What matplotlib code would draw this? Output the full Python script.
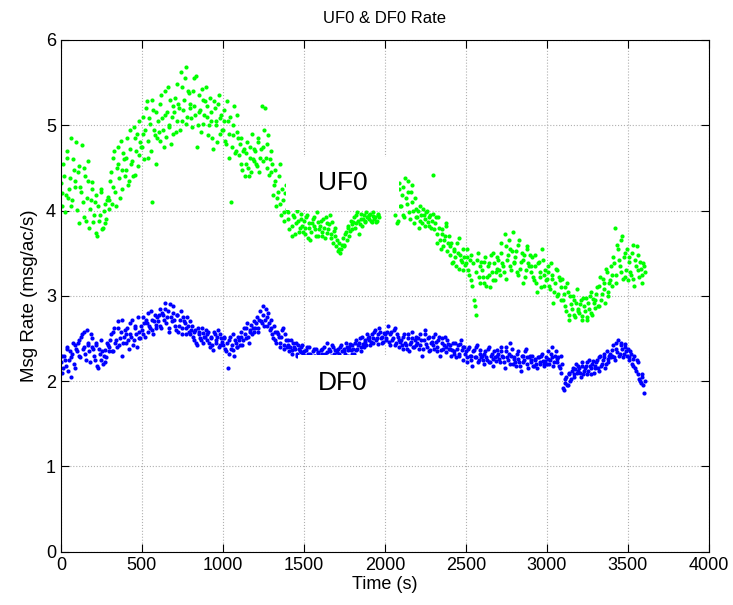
import numpy as np
import matplotlib
matplotlib.use('Agg')
import matplotlib.pyplot as plt
from matplotlib.patches import Rectangle

plt.rcParams['font.family'] = ['Liberation Sans', 'DejaVu Sans']

# samples are 5 s apart; stored as two interleaved runs of 10 s steps
t_a = np.arange(0, 3610, 10)
t_b = t_a + 5

# UF0 rate (msg/ac/s), nan where no sample was drawn
uf0_a = [
    4.32, 4.05, 4.41, 4.18, 4.62, 4.25, 4.85, 4.12, 4.47, 4.35,
    4.01, 4.52, 4.28, 4.77, 3.92, 4.40, 4.15, 4.58, 4.02, 4.33,
    3.86, 4.10, 3.74, 4.05, 3.95, 4.22, 3.80, 4.08, 3.90, 4.16,
    4.12, 4.45, 4.28, 4.70, 4.05, 4.55, 4.38, 4.82, 4.25, 4.60,
    4.48, 4.85, 4.35, 4.72, 4.58, 4.98, 4.42, 4.90, 4.65, 4.80,
    4.75, 5.10, 4.95, 5.28, 4.62, 5.02, 4.10, 5.18, 4.88, 4.55,
    5.05, 4.82, 5.35, 4.95, 5.12, 4.86, 5.45, 5.00, 4.78, 5.22,
    5.15, 4.92, 5.48, 5.20, 5.62, 5.05, 5.30, 5.68, 5.10, 5.38,
    5.25, 4.98, 5.55, 5.12, 4.75, 5.35, 5.18, 5.42, 5.02, 5.28,
    5.10, 4.88, 5.32, 5.05, 4.72, 5.20, 5.00, 5.25, 4.90, 5.12,
    4.95, 5.18, 4.78, 5.05, 4.62, 4.10, 4.88, 5.22, 4.70, 4.92,
    4.65, 4.85, 4.48, 4.72, 4.55, 4.80, 4.40, 4.62, 4.90, 4.58,
    4.70, 4.52, 4.85, 4.62, 5.22, 4.75, 5.20, 4.50, 4.88, 4.60,
    4.45, 4.18, 4.35, 4.05, 4.22, 4.55, 3.95, 4.12, 3.88, 4.30,
    3.98, 3.78, 4.05, 3.70, 3.92, 3.85, 4.02, 3.75, 3.90, 3.82,
    3.88, 3.72, 3.95, 3.80, 3.65, 3.85, 3.92, 3.78, 3.98, 3.70,
    3.82, 3.75, 3.90, 3.68, 3.85, 3.78, 3.95, 3.72, 3.62, 3.80,
    3.58, 3.52, 3.62, 3.55, 3.68, 3.60, 3.75, 3.82, 3.70, 3.88,
    3.78, 3.92, 3.85, 3.98, 3.72, 3.90, 3.82, 3.95, 3.88, 3.93,
    3.90, 3.96, 3.86, 3.98, 3.92, 3.88, 3.95, np.nan, np.nan, np.nan,
    np.nan, np.nan, np.nan, np.nan, np.nan, np.nan, 3.95, 4.20, 3.88, 4.32,
    4.05, 4.28, 3.92, 4.15, 4.35, 3.98, 4.22, 4.10, 3.85, 4.02,
    3.92, 3.80, 4.05, 3.85, 3.95, 3.90, 4.00, 3.82, 3.95, 3.88,
    4.42, 3.85, 3.72, 3.92, 3.65, 3.78, 3.58, 3.70, 3.82, 3.62,
    3.48, 3.62, 3.40, 3.55, 3.35, 3.50, 3.68, 3.42, 3.30, 3.45,
    3.38, 3.55, 3.25, 3.48, 3.12, 2.95, 2.78, 3.42, 3.22, 3.35,
    3.30, 3.15, 3.45, 3.22, 3.38, 3.10, 3.28, 3.50, 3.18, 3.32,
    3.42, 3.25, 3.62, 3.35, 3.72, 3.20, 3.48, 3.55, 3.30, 3.75,
    3.38, 3.52, 3.25, 3.65, 3.40, 3.15, 3.48, 3.30, 3.58, 3.35,
    3.28, 3.45, 3.18, 3.35, 3.05, 3.40, 3.22, 3.55, 3.12, 3.30,
    3.20, 3.35, 3.08, 3.25, 2.92, 3.15, 3.30, 3.02, 3.18, 3.10,
    2.95, 3.10, 2.82, 3.05, 2.72, 2.90, 3.00, 2.78, 2.92, 2.85,
    2.80, 2.95, 2.72, 2.88, 2.98, 2.75, 2.85, 3.05, 2.78, 2.92,
    2.95, 3.10, 2.88, 3.22, 3.02, 3.15, 2.92, 3.28, 3.05, 3.18,
    3.12, 3.45, 3.80, 3.25, 3.55, 3.35, 3.65, 3.20, 3.50, 3.30,
    3.18, 3.40, 3.25, 3.60, 3.12, 3.35, 3.48, 3.22, 3.32, 3.15,
    3.35,
]
uf0_b = [
    4.20, 4.55, 3.98, 4.70, 4.15, 4.38, 4.05, 4.60, 4.28, 4.80,
    4.45, 3.85, 4.22, 4.10, 4.50, 3.88, 4.35, 3.80, 4.12, 4.25,
    3.95, 4.18, 3.70, 3.88, 4.25, 3.78, 4.00, 3.85, 4.12, 4.02,
    4.35, 4.08, 4.62, 4.22, 4.50, 4.75, 4.15, 4.48, 4.68, 4.40,
    4.62, 4.30, 4.95, 4.55, 4.40, 4.85, 4.70, 4.52, 5.05, 4.75,
    4.90, 4.60, 5.20, 4.82, 5.08, 4.70, 5.30, 4.95, 5.15, 4.85,
    4.92, 5.25, 5.08, 4.75, 5.40, 5.15, 4.98, 5.30, 5.10, 4.90,
    5.32, 5.05, 5.25, 4.95, 5.45, 5.18, 5.55, 5.02, 5.40, 5.20,
    5.08, 5.40, 5.22, 5.58, 5.00, 5.15, 4.92, 5.30, 5.12, 5.45,
    5.22, 5.00, 5.15, 4.85, 5.28, 5.05, 4.80, 5.35, 5.08, 4.95,
    5.05, 4.82, 5.28, 4.90, 5.10, 4.75, 5.00, 4.68, 5.12, 4.85,
    4.78, 4.55, 4.70, 4.40, 4.68, 4.50, 4.75, 4.45, 4.60, 4.72,
    4.55, 4.80, 4.45, 4.72, 4.58, 4.95, 4.62, 4.78, 4.42, 4.70,
    4.55, 4.30, 4.48, 4.15, 4.40, 4.08, 4.25, 3.98, 4.20, 4.02,
    3.90, 4.08, 3.82, 3.95, 3.72, 4.00, 3.88, 3.80, 3.96, 3.75,
    3.80, 3.92, 3.68, 3.85, 3.75, 3.90, 3.82, 3.70, 3.86, 3.78,
    3.88, 3.70, 3.80, 3.92, 3.74, 3.84, 3.68, 3.86, 3.76, 3.70,
    3.65, 3.55, 3.50, 3.60, 3.58, 3.72, 3.66, 3.80, 3.76, 3.84,
    3.86, 3.80, 3.95, 3.88, 3.84, 3.96, 3.90, 3.86, 3.98, 3.92,
    3.95, 3.88, 3.94, 3.90, 3.86, 3.96, 3.92, np.nan, np.nan, np.nan,
    np.nan, np.nan, np.nan, np.nan, np.nan, np.nan, 4.10, 3.85, 4.25, 4.05,
    4.18, 3.95, 4.38, 4.08, 4.22, 3.90, 4.30, 4.00, 4.15, 3.92,
    4.00, 3.88, 3.95, 4.02, 3.82, 3.98, 3.86, 3.92, 3.80, 3.96,
    3.78, 3.92, 3.62, 3.80, 3.55, 3.72, 3.66, 3.85, 3.52, 3.70,
    3.58, 3.38, 3.52, 3.45, 3.62, 3.32, 3.48, 3.40, 3.55, 3.36,
    3.45, 3.30, 3.42, 3.18, 3.38, 2.88, 3.28, 3.50, 3.15, 3.40,
    3.22, 3.40, 3.12, 3.35, 3.25, 3.48, 3.18, 3.38, 3.28, 3.45,
    3.30, 3.50, 3.38, 3.28, 3.58, 3.42, 3.65, 3.35, 3.52, 3.40,
    3.45, 3.28, 3.60, 3.32, 3.50, 3.42, 3.22, 3.55, 3.38, 3.48,
    3.35, 3.22, 3.48, 3.15, 3.38, 3.28, 3.10, 3.42, 3.25, 3.18,
    3.28, 3.12, 3.38, 3.20, 3.05, 3.32, 3.00, 3.22, 2.95, 3.20,
    3.02, 2.88, 3.15, 2.78, 3.00, 2.85, 2.95, 2.75, 3.08, 2.82,
    2.90, 2.76, 2.98, 2.82, 2.72, 2.92, 3.00, 2.80, 2.96, 2.86,
    3.02, 2.88, 3.12, 2.95, 3.20, 3.08, 3.32, 3.00, 3.15, 3.35,
    3.25, 3.38, 3.15, 3.60, 3.42, 3.28, 3.70, 3.45, 3.22, 3.55,
    3.45, 3.28, 3.50, 3.20, 3.42, 3.58, 3.30, 3.40, 3.25, 3.38,
    3.28,
]

# DF0 rate (msg/ac/s)
df0_a = [
    2.22, 2.10, 2.30, 2.18, 2.38, 2.25, 2.05, 2.32, 2.20, 2.42,
    2.35, 2.48, 2.28, 2.55, 2.40, 2.32, 2.60, 2.45, 2.22, 2.50,
    2.38, 2.25, 2.45, 2.15, 2.32, 2.48, 2.20, 2.36, 2.28, 2.42,
    2.40, 2.55, 2.35, 2.62, 2.48, 2.70, 2.42, 2.58, 2.30, 2.52,
    2.45, 2.62, 2.38, 2.55, 2.72, 2.48, 2.65, 2.40, 2.58, 2.50,
    2.60, 2.75, 2.52, 2.68, 2.80, 2.62, 2.72, 2.55, 2.78, 2.66,
    2.70, 2.85, 2.62, 2.78, 2.92, 2.68, 2.82, 2.58, 2.75, 2.88,
    2.72, 2.60, 2.78, 2.65, 2.82, 2.55, 2.70, 2.62, 2.75, 2.58,
    2.55, 2.65, 2.48, 2.60, 2.42, 2.58, 2.50, 2.62, 2.45, 2.52,
    2.48, 2.58, 2.40, 2.52, 2.36, 2.55, 2.45, 2.60, 2.42, 2.50,
    2.42, 2.52, 2.35, 2.15, 2.48, 2.38, 2.55, 2.30, 2.45, 2.40,
    2.48, 2.58, 2.42, 2.62, 2.50, 2.68, 2.45, 2.60, 2.55, 2.70,
    2.62, 2.75, 2.58, 2.82, 2.68, 2.88, 2.72, 2.65, 2.80, 2.60,
    2.62, 2.50, 2.58, 2.45, 2.55, 2.40, 2.52, 2.62, 2.38, 2.48,
    2.42, 2.35, 2.48, 2.32, 2.40, 2.45, 2.30, 2.38, 2.34, 2.42,
    2.35, 2.28, 2.40, 2.25, 2.32, 2.22, 2.38, 2.30, 2.26, 2.34,
    2.30, 2.38, 2.24, 2.32, 2.45, 2.28, 2.35, 2.22, 2.40, 2.30,
    2.28, 2.38, 2.32, 2.42, 2.26, 2.35, 2.45, 2.30, 2.40, 2.36,
    2.42, 2.32, 2.48, 2.38, 2.45, 2.35, 2.52, 2.40, 2.46, 2.55,
    2.48, 2.42, 2.55, 2.45, 2.60, 2.50, 2.44, 2.58, 2.52, 2.46,
    2.55, 2.48, 2.65, 2.42, 2.58, 2.50, 2.62, 2.45, 2.52, 2.40,
    2.48, 2.38, 2.55, 2.42, 2.50, 2.35, 2.46, 2.58, 2.40, 2.52,
    2.45, 2.38, 2.55, 2.30, 2.48, 2.60, 2.40, 2.52, 2.36, 2.46,
    2.42, 2.55, 2.35, 2.48, 2.30, 2.45, 2.38, 2.52, 2.34, 2.44,
    2.38, 2.30, 2.45, 2.35, 2.28, 2.42, 2.32, 2.48, 2.25, 2.40,
    2.35, 2.22, 2.40, 2.30, 2.18, 2.36, 2.28, 2.42, 2.25, 2.32,
    2.30, 2.20, 2.35, 2.25, 2.40, 2.22, 2.32, 2.18, 2.28, 2.36,
    2.32, 2.22, 2.40, 2.28, 2.15, 2.35, 2.25, 2.45, 2.30, 2.20,
    2.28, 2.18, 2.35, 2.22, 2.12, 2.30, 2.25, 2.38, 2.20, 2.28,
    2.22, 2.30, 2.18, 2.25, 2.15, 2.28, 2.20, 2.32, 2.18, 2.24,
    2.20, 2.35, 2.25, 2.40, 2.18, 2.30, 2.22, 2.28, 2.15, 2.10,
    1.92, 1.98, 2.05, 1.95, 2.10, 2.02, 2.15, 2.08, 2.20, 2.12,
    2.15, 2.05, 2.22, 2.12, 2.18, 2.08, 2.25, 2.15, 2.20, 2.10,
    2.18, 2.25, 2.12, 2.30, 2.20, 2.28, 2.15, 2.35, 2.22, 2.32,
    2.30, 2.42, 2.25, 2.38, 2.48, 2.32, 2.45, 2.28, 2.40, 2.35,
    2.38, 2.25, 2.32, 2.18, 2.30, 2.12, 2.22, 2.02, 1.98, 2.08,
    1.86,
]
df0_b = [
    2.30, 2.15, 2.25, 2.40, 2.12, 2.35, 2.28, 2.45, 2.15, 2.38,
    2.45, 2.30, 2.52, 2.38, 2.58, 2.25, 2.42, 2.35, 2.55, 2.40,
    2.30, 2.42, 2.18, 2.38, 2.25, 2.35, 2.30, 2.22, 2.45, 2.35,
    2.48, 2.35, 2.58, 2.45, 2.40, 2.62, 2.50, 2.72, 2.45, 2.60,
    2.55, 2.48, 2.68, 2.52, 2.42, 2.62, 2.55, 2.75, 2.50, 2.65,
    2.55, 2.68, 2.72, 2.58, 2.65, 2.82, 2.60, 2.70, 2.62, 2.75,
    2.78, 2.65, 2.80, 2.72, 2.85, 2.75, 2.62, 2.90, 2.70, 2.80,
    2.65, 2.78, 2.58, 2.72, 2.62, 2.75, 2.68, 2.55, 2.65, 2.70,
    2.60, 2.52, 2.58, 2.45, 2.62, 2.55, 2.48, 2.56, 2.52, 2.60,
    2.55, 2.45, 2.50, 2.42, 2.58, 2.48, 2.52, 2.40, 2.55, 2.46,
    2.50, 2.38, 2.45, 2.32, 2.52, 2.42, 2.36, 2.48, 2.40, 2.52,
    2.42, 2.52, 2.48, 2.55, 2.62, 2.52, 2.58, 2.66, 2.62, 2.58,
    2.68, 2.62, 2.72, 2.70, 2.78, 2.65, 2.85, 2.75, 2.68, 2.72,
    2.55, 2.65, 2.48, 2.58, 2.52, 2.45, 2.60, 2.42, 2.55, 2.40,
    2.48, 2.40, 2.36, 2.45, 2.38, 2.32, 2.42, 2.35, 2.40, 2.32,
    2.30, 2.36, 2.32, 2.40, 2.28, 2.35, 2.30, 2.38, 2.33, 2.28,
    2.36, 2.32, 2.40, 2.28, 2.34, 2.38, 2.30, 2.42, 2.32, 2.36,
    2.34, 2.30, 2.40, 2.35, 2.38, 2.32, 2.40, 2.36, 2.44, 2.32,
    2.38, 2.45, 2.36, 2.42, 2.50, 2.40, 2.44, 2.48, 2.42, 2.50,
    2.52, 2.46, 2.50, 2.58, 2.48, 2.55, 2.62, 2.50, 2.45, 2.56,
    2.50, 2.58, 2.46, 2.55, 2.48, 2.60, 2.42, 2.55, 2.48, 2.46,
    2.42, 2.52, 2.45, 2.38, 2.55, 2.44, 2.50, 2.40, 2.48, 2.42,
    2.50, 2.42, 2.48, 2.38, 2.55, 2.44, 2.50, 2.35, 2.45, 2.52,
    2.38, 2.46, 2.40, 2.52, 2.36, 2.50, 2.42, 2.40, 2.48, 2.38,
    2.42, 2.36, 2.32, 2.45, 2.38, 2.30, 2.44, 2.36, 2.40, 2.32,
    2.28, 2.38, 2.30, 2.25, 2.35, 2.28, 2.40, 2.22, 2.36, 2.28,
    2.25, 2.32, 2.28, 2.38, 2.22, 2.30, 2.26, 2.35, 2.24, 2.30,
    2.26, 2.35, 2.30, 2.22, 2.40, 2.28, 2.32, 2.20, 2.38, 2.26,
    2.22, 2.32, 2.26, 2.18, 2.30, 2.22, 2.35, 2.28, 2.16, 2.30,
    2.25, 2.18, 2.26, 2.20, 2.28, 2.22, 2.30, 2.24, 2.20, 2.28,
    2.26, 2.20, 2.32, 2.28, 2.22, 2.35, 2.26, 2.18, 2.30, 2.20,
    1.90, 2.02, 1.96, 2.08, 2.00, 2.12, 2.05, 2.14, 2.10, 2.18,
    2.10, 2.18, 2.08, 2.15, 2.22, 2.12, 2.18, 2.08, 2.24, 2.16,
    2.22, 2.15, 2.28, 2.18, 2.25, 2.32, 2.20, 2.26, 2.30, 2.28,
    2.36, 2.28, 2.45, 2.34, 2.30, 2.42, 2.38, 2.32, 2.44, 2.30,
    2.28, 2.35, 2.20, 2.26, 2.15, 2.25, 2.08, 2.00, 2.05, 1.96,
    2.00,
]

xticks = [0, 500, 1000, 1500, 2000, 2500, 3000, 3500, 4000]
yticks = [0, 1, 2, 3, 4, 5, 6]

fig = plt.figure(figsize=(7.33, 6.05), dpi=100)
ax = fig.add_axes([0.083, 0.088, 0.884, 0.846])

for tt, vals in ((t_a, uf0_a), (t_b, uf0_b)):
    ax.plot(tt, vals, 'o', color='#00ff00', markersize=3.0, mec='none', zorder=2)
for tt, vals in ((t_a, df0_a), (t_b, df0_b)):
    ax.plot(tt, vals, 'o', color='#0000ff', markersize=3.0, mec='none', zorder=2)

# white label boxes drawn over the points, as in the original
ax.add_patch(Rectangle((1390, 4.01), 700, 0.62, facecolor='white',
                       edgecolor='none', zorder=3))
ax.add_patch(Rectangle((1463, 1.66), 610, 0.65, facecolor='white',
                       edgecolor='none', zorder=3))
ax.text(1740, 4.32, 'UF0', fontsize=19, ha='center', va='center', zorder=4)
ax.text(1740, 1.98, 'DF0', fontsize=19, ha='center', va='center', zorder=4)

ax.set_xlim(0, 4000)
ax.set_ylim(0, 6)
ax.set_xticks(xticks)
ax.set_yticks(yticks)
ax.grid(True, linestyle=':', color='#b0b0b0', linewidth=0.8, zorder=0)
ax.set_axisbelow(True)
ax.tick_params(direction='in', top=True, right=True, length=6,
               labelsize=13)

ax.set_title('UF0 & DF0 Rate', fontsize=12, pad=12)
ax.set_xlabel('Time (s)', fontsize=13, labelpad=2)
ax.set_ylabel('Msg Rate (msg/ac/s)', fontsize=13.5, labelpad=6)

fig.savefig('out.png', dpi=100)
plt.close(fig)
